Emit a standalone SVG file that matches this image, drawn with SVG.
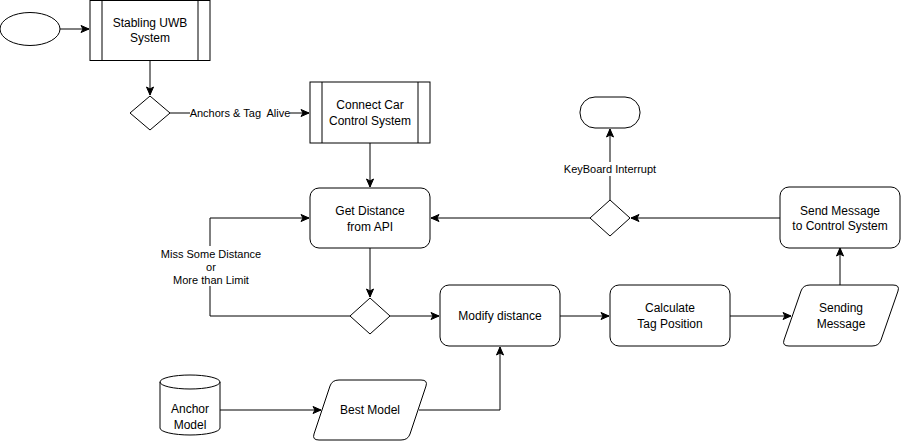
<svg xmlns="http://www.w3.org/2000/svg" width="901" height="441" viewBox="0 0 901 441">
<defs>
<marker id="arr" markerWidth="10" markerHeight="10" refX="9" refY="5" orient="auto" markerUnits="userSpaceOnUse">
<path d="M1,1.5 L9,5 L1,8.5 L3,5 z" fill="#000" stroke="#000" stroke-width="1"/>
</marker>
<style>
.s{fill:#fff;stroke:#000;stroke-width:1}
.t{font-family:"Liberation Sans",Arial,sans-serif;font-size:12px;fill:#000;text-anchor:middle}
.l{font-family:"Liberation Sans",Arial,sans-serif;font-size:11px;fill:#000;text-anchor:middle}
.e{fill:none;stroke:#000;stroke-width:1}
.a{marker-end:url(#arr)}
</style>
</defs>
<rect width="901" height="441" fill="#fff"/>
<g id="connectors">
<path class="e a" d="M60,29 H89"/>
<path class="e a" d="M150,60 V95"/>
<path class="e a" d="M170,113 H309"/>
<path class="e a" d="M370,143 V187"/>
<path class="e a" d="M370,248 V297"/>
<path class="e a" d="M350,316 H210 V218 H309"/>
<path class="e a" d="M390,316 H439"/>
<path class="e a" d="M560,316 H609"/>
<path class="e a" d="M730,316 H791"/>
<path class="e a" d="M840,285 V248"/>
<path class="e a" d="M780,218 H631"/>
<path class="e a" d="M590,218 H431"/>
<path class="e a" d="M610,200 V129"/>
<path class="e a" d="M220,410 H321"/>
<path class="e a" d="M419,410 H500 V347"/>
<rect x="190" y="106" width="100" height="14" fill="#fff"/>
<text class="l" x="240" y="117">Anchors &amp; Tag&#160; Alive</text>
<rect x="562" y="162" width="96" height="14" fill="#fff"/>
<text class="l" x="610" y="173">KeyBoard Interrupt</text>
<rect x="160" y="246" width="102" height="40" fill="#fff"/>
<text class="l" x="211" y="258">Miss Some Distance</text>
<text class="l" x="211" y="271">or</text>
<text class="l" x="211" y="284">More than Limit</text>
</g>
<g id="start"><ellipse class="s" cx="30" cy="29" rx="30" ry="16.5"/></g>
<g id="stabling">
<rect class="s" x="90" y="0.5" width="120" height="60"/>
<path class="e" d="M102,0.5 V60.5 M198,0.5 V60.5"/>
<text class="t" x="150" y="27">Stabling UWB</text>
<text class="t" x="150" y="42">System</text>
</g>
<g id="dec1"><path class="s" d="M150,96 L170,113 L150,130 L130,113 z"/></g>
<g id="connect">
<rect class="s" x="310" y="82" width="120" height="61"/>
<path class="e" d="M322,82 V143 M418,82 V143"/>
<text class="t" x="370" y="109">Connect Car</text>
<text class="t" x="370" y="125">Control System</text>
</g>
<g id="getdist">
<rect class="s" x="310" y="188" width="120" height="60" rx="9"/>
<text class="t" x="370" y="215">Get Distance</text>
<text class="t" x="370" y="231">from API</text>
</g>
<g id="dec2"><path class="s" d="M370,298 L390,316 L370,334 L350,316 z"/></g>
<g id="modify">
<rect class="s" x="440" y="285" width="120" height="61" rx="9"/>
<text class="t" x="500" y="320">Modify distance</text>
</g>
<g id="calc">
<rect class="s" x="610" y="285" width="120" height="61" rx="9"/>
<text class="t" x="670" y="312">Calculate</text>
<text class="t" x="670" y="328">Tag Position</text>
</g>
<g id="sending">
<path class="s" d="M810,285 H893 Q900,285 898,291 L881,340 Q879,346 872,346 H789 Q782,346 784,340 L801,291 Q803,285 810,285 z"/>
<text class="t" x="841" y="312">Sending</text>
<text class="t" x="841" y="328">Message</text>
</g>
<g id="sendmsg">
<rect class="s" x="780" y="187" width="120" height="61" rx="9"/>
<text class="t" x="840" y="215">Send Message</text>
<text class="t" x="840" y="230">to Control System</text>
</g>
<g id="dec3"><path class="s" d="M610,200 L630,218 L610,236 L590,218 z"/></g>
<g id="end"><rect class="s" x="580" y="97" width="60" height="31" rx="15"/></g>
<g id="anchor">
<path class="s" d="M160,382 A30,7 0 0 1 220,382 V428 A30,7 0 0 1 160,428 z"/>
<path class="e" d="M160,382 A30,7 0 0 0 220,382"/>
<text class="t" x="190" y="413">Anchor</text>
<text class="t" x="190" y="429">Model</text>
</g>
<g id="best">
<path class="s" d="M339,380 H421 Q428,380 426,386 L410,434 Q408,440 401,440 H319 Q312,440 314,434 L330,386 Q332,380 339,380 z"/>
<text class="t" x="370" y="414">Best Model</text>
</g>
</svg>
